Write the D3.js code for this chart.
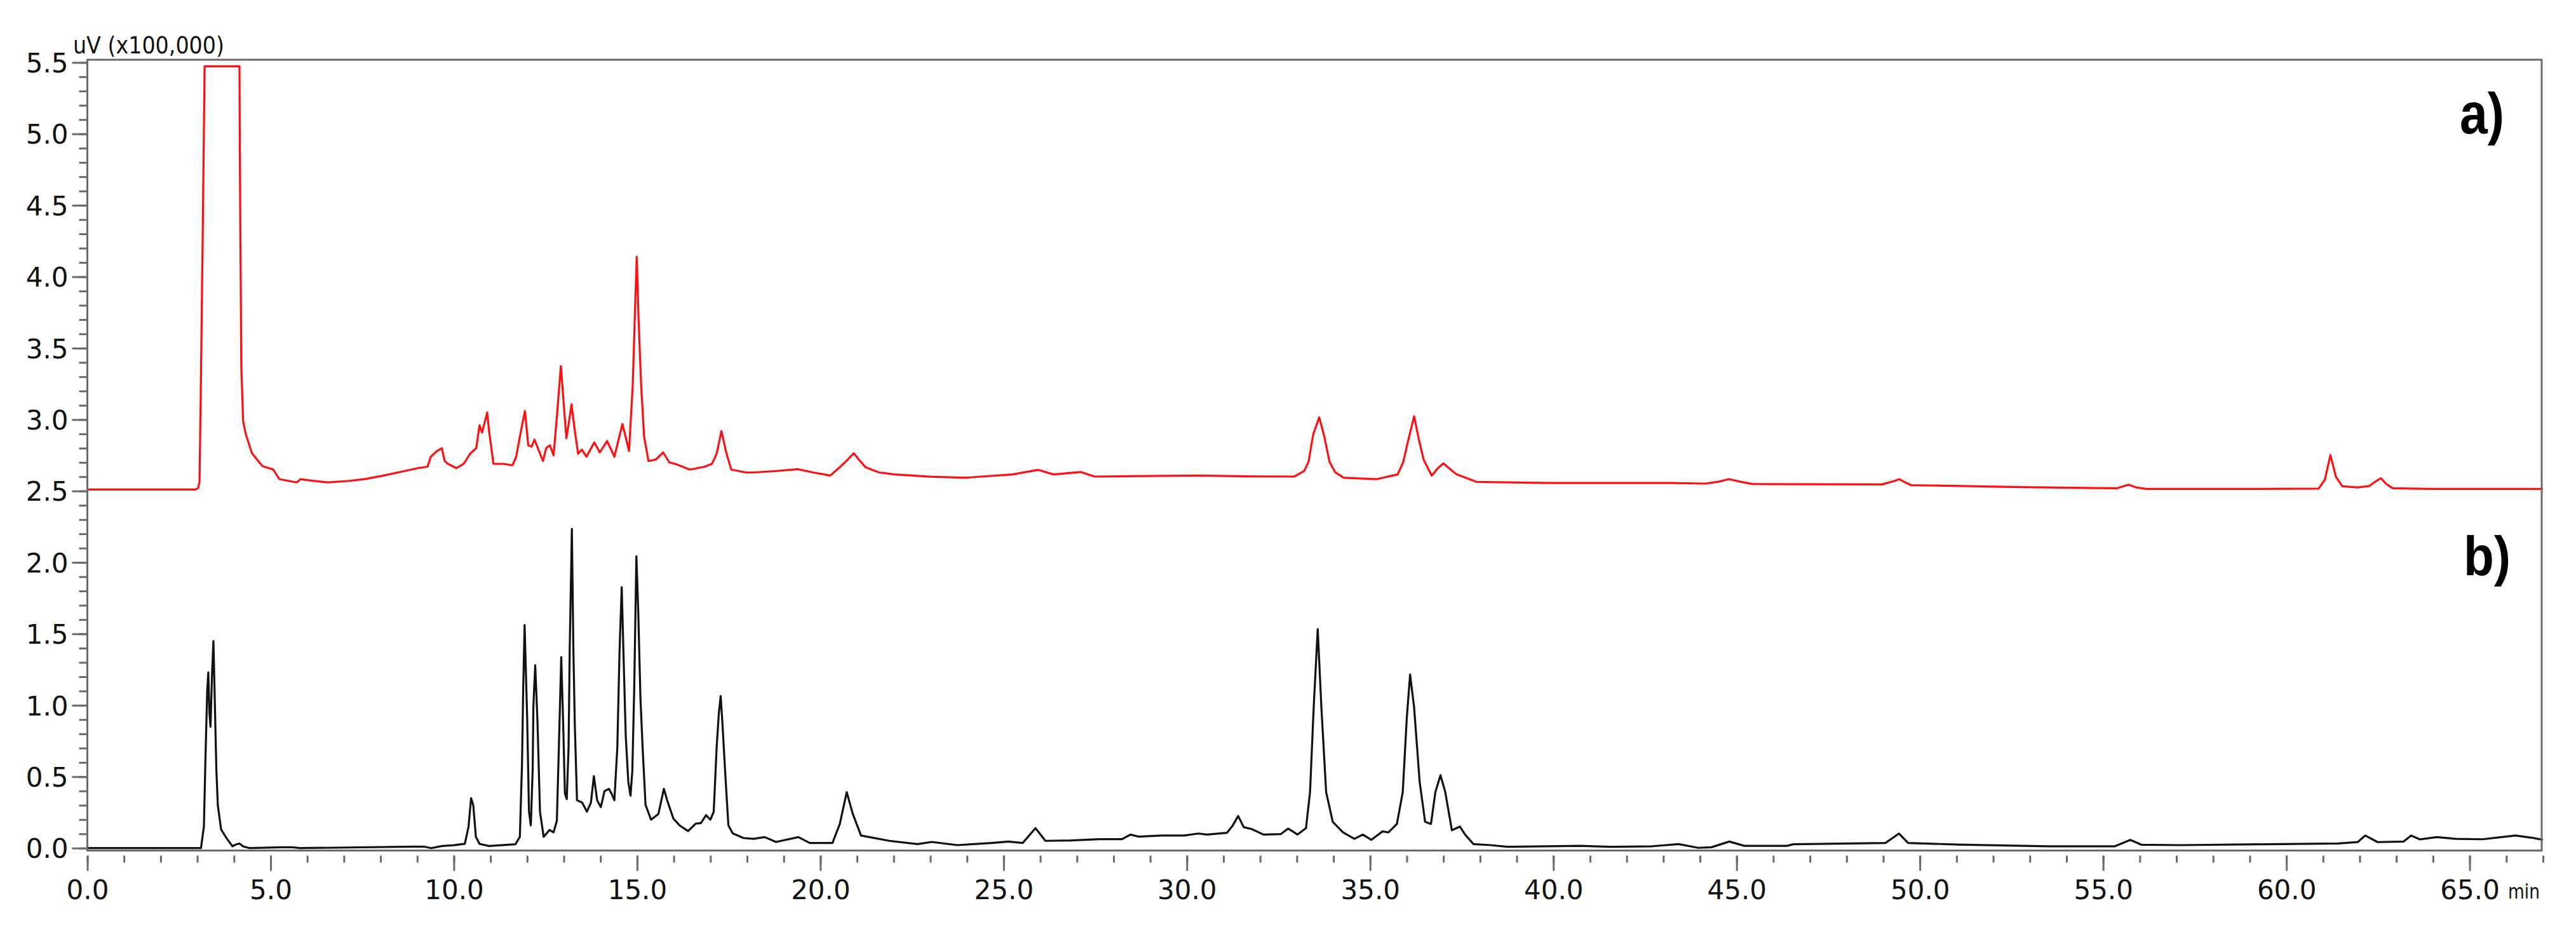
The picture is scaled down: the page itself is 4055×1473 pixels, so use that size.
<!DOCTYPE html>
<html>
<head>
<meta charset="utf-8">
<script src="https://cdn.jsdelivr.net/npm/d3@7"></script>
<style>
  body { margin: 0; background: #fff; }
  svg { display: block; background: #fff; }
  .axis text { font-family: "DejaVu Sans", Verdana, sans-serif; font-size: 42px; fill: #111; }
  .axis line { stroke: #6a6a6a; stroke-width: 3; }
</style>
</head>
<body>
<svg id="chart" width="4055" height="1473"></svg>
<script>
// trace a) (red), [time min, signal x100,000 uV]
const traceA = [
  [0.0, 2.510], [2.95, 2.510], [3.02, 2.520], [3.06, 2.560], [3.10, 3.30], [3.15, 4.35],
  [3.18, 5.03], [3.20, 5.473], [4.15, 5.473], [4.16, 4.88], [4.20, 3.38], [4.25, 2.99],
  [4.32, 2.90], [4.49, 2.764], [4.78, 2.673], [5.07, 2.651], [5.24, 2.583], [5.71, 2.560],
  [5.82, 2.583], [6.20, 2.570], [6.57, 2.560], [7.15, 2.571], [7.60, 2.585], [8.02, 2.605],
  [8.68, 2.641], [9.01, 2.660], [9.28, 2.670], [9.37, 2.740], [9.54, 2.780], [9.67, 2.800],
  [9.75, 2.710], [9.84, 2.690], [10.07, 2.660], [10.27, 2.690], [10.44, 2.760], [10.61, 2.800],
  [10.70, 2.960], [10.77, 2.910], [10.91, 3.050], [10.96, 2.920], [11.08, 2.690], [11.35, 2.690],
  [11.60, 2.680], [11.70, 2.740], [11.83, 2.920], [11.94, 3.060], [12.03, 2.820], [12.12, 2.810],
  [12.20, 2.860], [12.43, 2.710], [12.52, 2.800], [12.62, 2.820], [12.72, 2.750], [12.82, 3.050],
  [12.92, 3.375], [12.99, 3.135], [13.07, 2.870], [13.15, 3.000], [13.21, 3.107], [13.29, 2.940],
  [13.39, 2.760], [13.49, 2.790], [13.62, 2.740], [13.83, 2.840], [13.98, 2.770], [14.18, 2.850],
  [14.38, 2.740], [14.60, 2.970], [14.78, 2.780], [14.88, 3.240], [14.94, 3.740], [14.99, 4.140],
  [15.04, 3.700], [15.11, 3.240], [15.19, 2.880], [15.31, 2.710], [15.51, 2.720], [15.71, 2.770],
  [15.88, 2.700], [16.04, 2.690], [16.44, 2.650], [16.84, 2.670], [17.04, 2.690], [17.17, 2.760],
  [17.30, 2.920], [17.44, 2.760], [17.57, 2.650], [17.97, 2.630], [18.19, 2.630], [18.80, 2.640],
  [19.38, 2.653], [19.80, 2.630], [20.27, 2.608], [20.50, 2.660], [20.69, 2.705], [20.91, 2.764],
  [21.05, 2.720], [21.23, 2.667], [21.60, 2.630], [22.03, 2.616], [23.00, 2.600], [23.96, 2.593],
  [25.24, 2.616], [25.95, 2.648], [26.36, 2.616], [27.10, 2.633], [27.48, 2.601], [28.90, 2.605],
  [30.37, 2.608], [31.60, 2.603], [32.93, 2.601], [33.20, 2.640], [33.32, 2.705], [33.45, 2.900],
  [33.61, 3.016], [33.75, 2.880], [33.89, 2.705], [34.05, 2.630], [34.28, 2.593], [35.18, 2.583],
  [35.75, 2.616], [35.90, 2.700], [36.01, 2.823], [36.20, 3.023], [36.33, 2.860], [36.46, 2.719],
  [36.68, 2.608], [36.85, 2.660], [37.00, 2.693], [37.15, 2.660], [37.36, 2.616], [37.90, 2.564],
  [39.98, 2.556], [43.19, 2.556], [44.15, 2.552], [44.50, 2.565], [44.79, 2.583], [45.10, 2.565],
  [45.43, 2.549], [48.96, 2.546], [49.30, 2.570], [49.44, 2.583], [49.60, 2.560], [49.76, 2.541],
  [52.80, 2.527], [55.37, 2.519], [55.69, 2.544], [55.90, 2.525], [56.17, 2.515], [59.21, 2.515],
  [60.88, 2.517], [61.05, 2.580], [61.20, 2.752], [61.35, 2.600], [61.52, 2.534], [61.94, 2.525],
  [62.26, 2.535], [62.45, 2.570], [62.58, 2.589], [62.72, 2.550], [62.90, 2.519], [64.02, 2.515],
  [67.0, 2.515]
];

// trace b) (black)
const traceB = [
  [0.0, 0.0], [3.10, 0.0], [3.18, 0.15], [3.22, 0.60], [3.27, 1.10], [3.30, 1.23], [3.33, 0.95],
  [3.36, 0.85], [3.40, 1.20], [3.44, 1.45], [3.48, 1.00], [3.52, 0.55], [3.56, 0.30], [3.65, 0.13],
  [3.81, 0.065], [3.96, 0.013], [4.05, 0.025], [4.15, 0.032], [4.25, 0.012], [4.43, 0.0],
  [5.30, 0.006], [5.60, 0.006], [5.80, 0.0], [8.90, 0.010], [9.20, 0.010], [9.38, 0.0],
  [9.68, 0.015], [10.00, 0.020], [10.30, 0.030], [10.40, 0.150], [10.47, 0.350], [10.53, 0.300],
  [10.60, 0.080], [10.70, 0.030], [10.96, 0.015], [11.68, 0.027], [11.80, 0.079], [11.86, 0.592],
  [11.89, 1.089], [11.93, 1.562], [12.00, 0.912], [12.05, 0.255], [12.10, 0.159], [12.15, 0.544],
  [12.17, 0.993], [12.22, 1.281], [12.28, 0.896], [12.35, 0.255], [12.45, 0.079], [12.61, 0.127],
  [12.72, 0.111], [12.81, 0.191], [12.87, 0.752], [12.93, 1.337], [12.98, 0.896], [13.03, 0.383],
  [13.08, 0.343], [13.13, 0.704], [13.16, 1.377], [13.22, 2.235], [13.26, 1.409], [13.30, 0.864],
  [13.36, 0.335], [13.50, 0.319], [13.63, 0.255], [13.74, 0.319], [13.82, 0.504], [13.91, 0.335],
  [14.01, 0.287], [14.11, 0.399], [14.23, 0.415], [14.30, 0.383], [14.38, 0.335], [14.46, 0.704],
  [14.52, 1.377], [14.58, 1.826], [14.63, 1.345], [14.69, 0.784], [14.76, 0.464], [14.82, 0.367],
  [14.87, 0.544], [14.92, 1.105], [14.98, 2.043], [15.03, 1.666], [15.09, 1.057], [15.15, 0.704],
  [15.23, 0.303], [15.38, 0.199], [15.58, 0.239], [15.73, 0.415], [15.82, 0.335], [15.99, 0.207],
  [16.16, 0.159], [16.39, 0.119], [16.60, 0.172], [16.74, 0.175], [16.88, 0.231], [17.00, 0.199],
  [17.09, 0.255], [17.17, 0.704], [17.23, 0.945], [17.28, 1.065], [17.33, 0.864], [17.40, 0.544],
  [17.49, 0.159], [17.61, 0.103], [17.90, 0.071], [18.17, 0.065], [18.48, 0.077], [18.79, 0.043],
  [19.40, 0.077], [19.71, 0.036], [20.33, 0.036], [20.53, 0.169], [20.72, 0.392], [20.88, 0.243],
  [21.11, 0.088], [21.88, 0.051], [22.65, 0.028], [23.04, 0.043], [23.74, 0.021], [24.67, 0.036],
  [25.13, 0.046], [25.52, 0.036], [25.87, 0.140], [26.14, 0.051], [26.83, 0.054], [27.61, 0.063],
  [28.23, 0.063], [28.46, 0.095], [28.69, 0.080], [29.31, 0.088], [29.93, 0.088], [30.31, 0.102],
  [30.55, 0.095], [31.09, 0.107], [31.24, 0.154], [31.40, 0.225], [31.55, 0.147], [31.78, 0.132],
  [32.09, 0.095], [32.56, 0.098], [32.76, 0.137], [33.02, 0.095], [33.25, 0.140], [33.36, 0.392],
  [33.46, 0.985], [33.57, 1.533], [33.67, 0.985], [33.80, 0.392], [33.98, 0.184], [34.26, 0.110],
  [34.57, 0.065], [34.80, 0.095], [35.03, 0.058], [35.34, 0.117], [35.50, 0.110], [35.73, 0.169],
  [35.89, 0.392], [36.00, 0.911], [36.09, 1.215], [36.20, 0.985], [36.35, 0.466], [36.50, 0.184],
  [36.66, 0.169], [36.78, 0.392], [36.92, 0.510], [37.05, 0.392], [37.23, 0.125], [37.45, 0.151],
  [37.59, 0.095], [37.82, 0.028], [38.28, 0.021], [38.75, 0.009], [40.73, 0.016], [41.54, 0.009],
  [42.70, 0.013], [43.42, 0.028], [43.95, 0.002], [44.31, 0.006], [44.80, 0.046], [45.21, 0.016],
  [46.37, 0.016], [46.55, 0.027], [49.06, 0.036], [49.43, 0.102], [49.68, 0.036], [51.03, 0.025],
  [53.53, 0.013], [55.32, 0.013], [55.74, 0.058], [56.04, 0.024], [57.11, 0.021], [59.44, 0.027],
  [61.41, 0.033], [61.95, 0.043], [62.15, 0.088], [62.49, 0.042], [63.20, 0.046], [63.40, 0.088],
  [63.65, 0.061], [64.10, 0.077], [64.63, 0.065], [65.35, 0.062], [66.25, 0.088], [66.69, 0.073],
  [67.0, 0.058]
];

const xTickValues = [0, 5, 10, 15, 20, 25, 30, 35, 40, 45, 50, 55, 60, 65];
const yTickValues = [0, 0.5, 1.0, 1.5, 2.0, 2.5, 3.0, 3.5, 4.0, 4.5, 5.0, 5.5];
const traceLabels = ["a)", "b)"];
const yUnitLabel = "uV (x100,000)";
const xUnitLabel = "min";

let svg = d3.select("#chart");

let x = d3.scaleLinear().domain([0, 67]).range([137.5, 4003]);
let y = d3.scaleLinear().domain([0, 5.5]).range([1334.7, 98.3]);

let frameLeft = x(0), frameRight = 4001, frameTop = 94, frameBottom = 1338.5;

// traces
let line = d3.line()
  .x(function(d) { return x(d[0]); })
  .y(function(d) { return y(d[1]); });

svg.append("path")
  .datum(traceA)
  .attr("d", line)
  .attr("fill", "none")
  .attr("stroke", "#ff1010")
  .attr("stroke-width", 3.2)
  .attr("stroke-linejoin", "round");

svg.append("path")
  .datum(traceB)
  .attr("d", line)
  .attr("fill", "none")
  .attr("stroke", "#111")
  .attr("stroke-width", 3.2)
  .attr("stroke-linejoin", "round");

// frame
svg.append("rect")
  .attr("x", frameLeft)
  .attr("y", frameTop)
  .attr("width", frameRight - frameLeft)
  .attr("height", frameBottom - frameTop)
  .attr("fill", "none")
  .attr("stroke", "#6a6a6a")
  .attr("stroke-width", 3);

// x axis: ticks hang a little below the frame
let xMinorTicks = d3.range(0, 67.001, 1);
svg.append("g")
  .attr("class", "axis")
  .attr("transform", "translate(0," + (frameBottom + 8) + ")")
  .call(d3.axisBottom(x).tickValues(xMinorTicks).tickSize(11).tickFormat(""))
  .call(function(g) { g.select(".domain").remove(); });

svg.append("g")
  .attr("class", "axis")
  .attr("transform", "translate(0," + (frameBottom + 8) + ")")
  .call(d3.axisBottom(x).tickValues(xTickValues).tickSize(24).tickPadding(15).tickFormat(d3.format(".1f")))
  .call(function(g) { g.select(".domain").remove(); });

// y axis
let yMinorTicks = d3.range(0, 5.501, 0.1);
svg.append("g")
  .attr("class", "axis")
  .attr("transform", "translate(" + frameLeft + ",0)")
  .call(d3.axisLeft(y).tickValues(yMinorTicks).tickSize(13).tickFormat(""))
  .call(function(g) { g.select(".domain").remove(); });

svg.append("g")
  .attr("class", "axis")
  .attr("transform", "translate(" + frameLeft + ",0)")
  .call(d3.axisLeft(y).tickValues(yTickValues).tickSize(24).tickPadding(6).tickFormat(d3.format(".1f")))
  .call(function(g) { g.select(".domain").remove(); })
  .selectAll("text").attr("dy", "0.36em");

// unit labels
svg.append("text")
  .attr("x", 115)
  .attr("y", 83.5)
  .attr("textLength", 238)
  .attr("lengthAdjust", "spacingAndGlyphs")
  .style("font-family", "'DejaVu Sans', Verdana, sans-serif")
  .style("font-size", "38px")
  .attr("fill", "#111")
  .text(yUnitLabel);

svg.append("text")
  .attr("x", 3948)
  .attr("y", 1414)
  .attr("textLength", 50)
  .attr("lengthAdjust", "spacingAndGlyphs")
  .style("font-family", "'DejaVu Sans', Verdana, sans-serif")
  .style("font-size", "32px")
  .attr("fill", "#111")
  .text(xUnitLabel);

// panel labels
svg.append("text")
  .attr("x", 3872)
  .attr("y", 210)
  .attr("textLength", 70)
  .attr("lengthAdjust", "spacingAndGlyphs")
  .style("font-family", "'Liberation Sans', Arial, sans-serif")
  .style("font-weight", "bold")
  .style("font-size", "90px")
  .attr("fill", "#000")
  .text(traceLabels[0]);

svg.append("text")
  .attr("x", 3878)
  .attr("y", 905)
  .attr("textLength", 74)
  .attr("lengthAdjust", "spacingAndGlyphs")
  .style("font-family", "'Liberation Sans', Arial, sans-serif")
  .style("font-weight", "bold")
  .style("font-size", "88px")
  .attr("fill", "#000")
  .text(traceLabels[1]);
</script>
</body>
</html>
